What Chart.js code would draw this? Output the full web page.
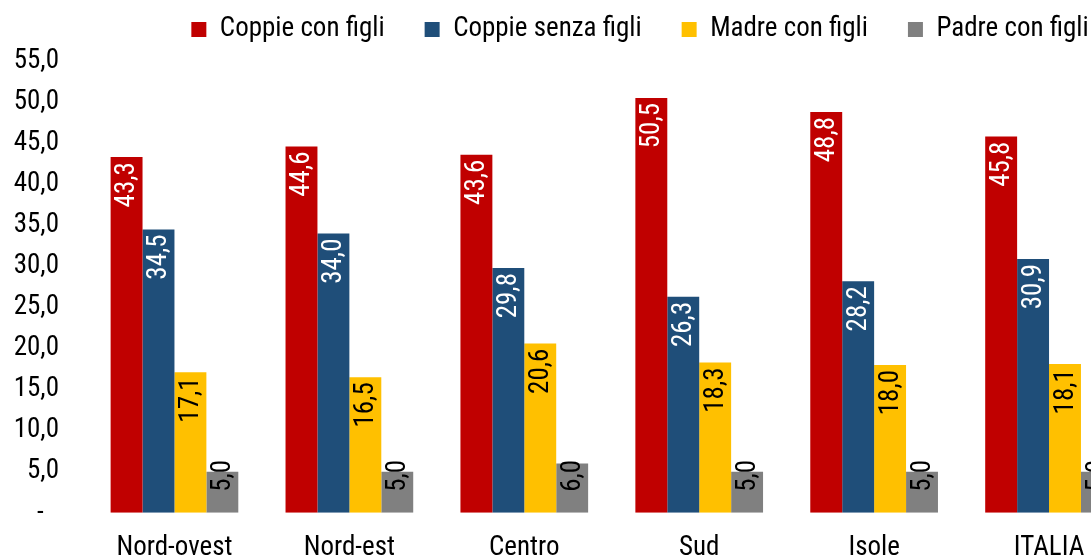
<!DOCTYPE html>
<html>
<head>
<meta charset="utf-8">
<script src="https://cdn.jsdelivr.net/npm/chart.js@4/dist/chart.umd.min.js"></script>
<style>
  html, body { margin: 0; padding: 0; background: #fff; overflow: hidden; }
  #wrap { width: 1280px; height: 557px; }
</style>
</head>
<body>
<div id="wrap"><canvas id="grafico"></canvas></div>
<script>
const categorie = ['Nord-ovest', 'Nord-est', 'Centro', 'Sud', 'Isole', 'ITALIA'];
const coppieConFigli = [43.3, 44.6, 43.6, 50.5, 48.8, 45.8];
const coppieSenzaFigli = [34.5, 34.0, 29.8, 26.3, 28.2, 30.9];
const madreConFigli = [17.1, 16.5, 20.6, 18.3, 18.0, 18.1];
const padreConFigli = [5.0, 5.0, 6.0, 5.0, 5.0, 5.0];

const FONT = '"Roboto Condensed", "Liberation Sans", Arial, sans-serif';
const SIZE = 27;

const fmt = v => v.toFixed(1).replace('.', ',');

// etichette ruotate dentro le barre
const etichette = {
    id: 'etichette',
    afterDatasetsDraw(chart) {
        const ctx = chart.ctx;
        ctx.save();
        ctx.font = `${SIZE}px ${FONT}`;
        chart.data.datasets.forEach((ds, i) => {
            const meta = chart.getDatasetMeta(i);
            meta.data.forEach((bar, j) => {
                const txt = fmt(ds.data[j]);
                const w = ctx.measureText(txt).width;
                const start = Math.min(bar.y + 5, bar.base - 21 - w);
                ctx.save();
                ctx.translate(bar.x + 1, start);
                ctx.rotate(-Math.PI / 2);
                ctx.fillStyle = ds.labelColor;
                ctx.textAlign = 'right';
                ctx.textBaseline = 'middle';
                ctx.fillText(txt, 0, 0);
                ctx.restore();
            });
        });
        ctx.restore();
    }
};

Chart.defaults.font.family = FONT;
Chart.defaults.font.size = SIZE;
Chart.defaults.color = '#000';

new Chart(document.getElementById('grafico'), {
    type: 'bar',
    data: {
        labels: categorie,
        datasets: [
            { label: 'Coppie con figli', data: coppieConFigli, backgroundColor: '#C00000', labelColor: '#fff' },
            { label: 'Coppie senza figli', data: coppieSenzaFigli, backgroundColor: '#1F4E79', labelColor: '#fff' },
            { label: 'Madre con figli', data: madreConFigli, backgroundColor: '#FFC000', labelColor: '#000' },
            { label: 'Padre con figli', data: padreConFigli, backgroundColor: '#808080', labelColor: '#000' }
        ]
    },
    options: {
        responsive: true,
        maintainAspectRatio: false,
        animation: false,
        categoryPercentage: 0.73,
        barPercentage: 1.0,
        layout: { padding: { top: -24, bottom: 0, left: 0, right: 0 } },
        plugins: {
            legend: {
                position: 'top',
                labels: { boxWidth: 15, boxHeight: 15, padding: 40, font: { size: SIZE } }
            },
            tooltip: { enabled: false }
        },
        scales: {
            x: {
                grid: { display: false, drawTicks: false },
                border: { display: false },
                ticks: { padding: 19, maxRotation: 0, autoSkip: false },
                afterFit: s => { s.height = 44; }
            },
            x2: {
                position: 'top',
                grid: { display: false, drawTicks: false },
                border: { display: false },
                ticks: { display: false },
                afterFit: s => { s.height = 8; }
            },
            y: {
                min: 0,
                max: 55,
                grid: { display: false, drawTicks: false },
                border: { display: false },
                ticks: {
                    stepSize: 5,
                    padding: 28,
                    callback: v => v === 0 ? '-  \u200A' : fmt(v)
                },
                afterFit: s => { s.width = 87; }
            },
            y2: {
                position: 'right',
                grid: { display: false, drawTicks: false },
                border: { display: false },
                ticks: { display: false },
                afterFit: s => { s.width = 143.5; }
            }
        }
    },
    plugins: [etichette]
});
</script>
</body>
</html>
